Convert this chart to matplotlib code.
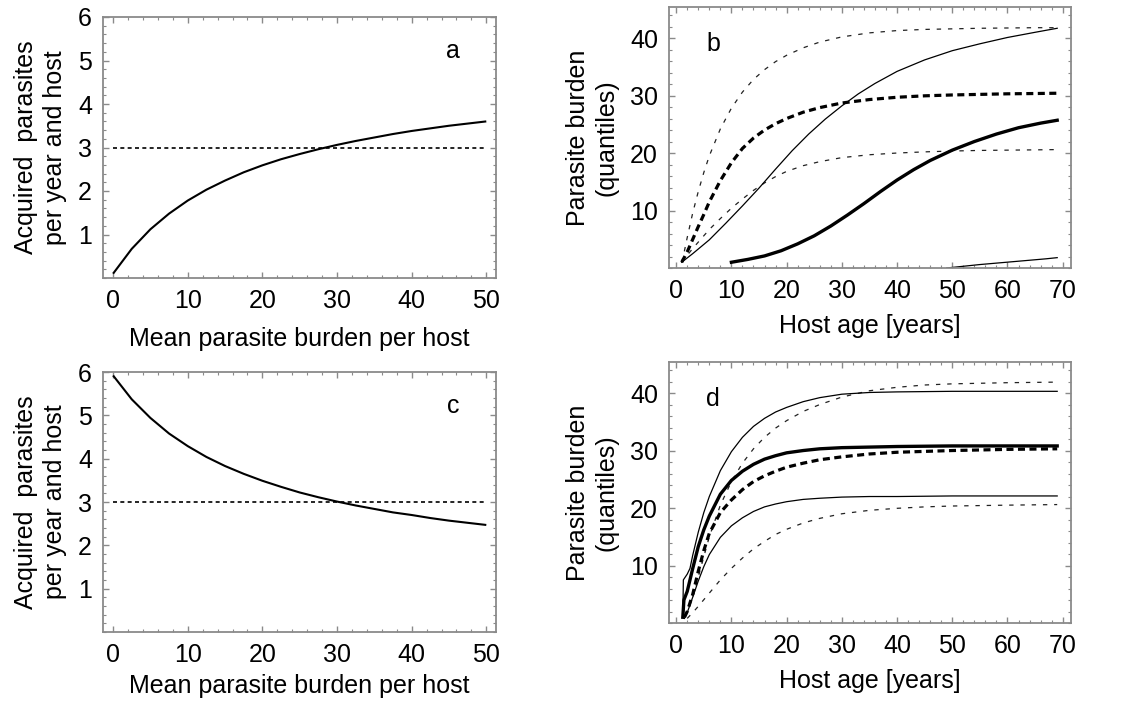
import matplotlib
matplotlib.use("Agg")
import matplotlib.pyplot as plt
from matplotlib.ticker import MultipleLocator, FixedLocator

plt.rcParams['font.family'] = ['Liberation Sans', 'DejaVu Sans']

# ---------------- data ----------------
# panel a: acquired parasites vs mean burden (increasing)
a_x = [0, 2.5, 5, 7.5, 10, 12.5, 15, 17.5, 20, 22.5, 25, 27.5, 30, 32.5, 35, 37.5, 40, 42.5, 45, 47.5, 50]
a_y = [0.10, 0.67, 1.12, 1.48, 1.78, 2.03, 2.24, 2.43, 2.59, 2.73, 2.85, 2.96, 3.06, 3.15, 3.23, 3.31, 3.38, 3.44, 3.50, 3.55, 3.60]
# panel c: acquired parasites vs mean burden (decreasing)
c_x = [0, 2.5, 5, 7.5, 10, 12.5, 15, 17.5, 20, 22.5, 25, 27.5, 30, 32.5, 35, 37.5, 40, 42.5, 45, 47.5, 50]
c_y = [5.92, 5.37, 4.94, 4.58, 4.29, 4.04, 3.83, 3.65, 3.49, 3.35, 3.22, 3.11, 3.01, 2.92, 2.84, 2.76, 2.70, 2.63, 2.57, 2.52, 2.47]
ref_x = [0, 50]
ref_y = [3, 3]

# panel b
b_dash_hi_x = [1, 1.5, 2, 3, 4, 5, 6, 8, 10, 12, 14, 16, 18, 20, 23, 26, 30, 35, 40, 45, 50, 55, 60, 65, 69]
b_dash_hi_y = [1.0, 3.0, 5.3, 9.6, 13.3, 16.6, 19.5, 24.2, 27.8, 30.6, 32.8, 34.5, 35.9, 37.0, 38.3, 39.3, 40.2, 40.9, 41.3, 41.5, 41.6, 41.7, 41.75, 41.8, 41.8]
b_dash_med_x = [1, 2, 3, 4, 5, 6, 8, 10, 12, 14, 16, 18, 20, 23, 26, 30, 35, 40, 45, 50, 55, 60, 65, 69]
b_dash_med_y = [1.0, 2.8, 5.0, 7.2, 9.3, 11.5, 15.2, 18.3, 20.8, 22.6, 24.0, 25.1, 26.0, 27.1, 27.9, 28.7, 29.3, 29.7, 29.95, 30.1, 30.2, 30.3, 30.35, 30.4]
b_dash_lo_x = [1, 2, 3, 4, 6, 8, 10, 12, 14, 16, 18, 20, 23, 26, 30, 35, 40, 45, 50, 55, 60, 65, 69]
b_dash_lo_y = [1.0, 2.2, 3.4, 4.5, 6.7, 8.6, 10.4, 12.0, 13.5, 14.8, 15.9, 16.8, 17.8, 18.5, 19.2, 19.7, 20.0, 20.2, 20.35, 20.45, 20.5, 20.55, 20.6]
b_solid_hi_x = [1, 3, 6, 9, 12, 15, 18, 21, 24, 27, 30, 33, 36, 40, 45, 50, 55, 60, 65, 69]
b_solid_hi_y = [1.0, 2.5, 4.9, 7.8, 10.8, 13.9, 17.2, 20.4, 23.3, 25.9, 28.2, 30.3, 32.1, 34.2, 36.2, 37.8, 39.0, 40.1, 41.0, 41.7]
b_solid_med_x = [10, 13, 16, 19, 22, 25, 28, 31, 34, 37, 40, 43, 46, 50, 54, 58, 62, 66, 69]
b_solid_med_y = [1.0, 1.5, 2.1, 3.0, 4.2, 5.6, 7.3, 9.2, 11.2, 13.3, 15.3, 17.1, 18.7, 20.5, 22.0, 23.3, 24.4, 25.2, 25.7]
b_solid_lo_x = [49, 52, 55, 58, 61, 64, 67, 69]
b_solid_lo_y = [0.0, 0.3, 0.6, 0.85, 1.1, 1.35, 1.6, 1.8]

# panel d
d_solid_hi_x = [1.2, 1.3, 2.0, 2.5, 3, 4, 5, 6, 8, 10, 12, 14, 16, 18, 20, 23, 26, 30, 35, 40, 50, 60, 69]
d_solid_hi_y = [1.0, 7.5, 8.5, 9.5, 11.8, 15.8, 19.2, 22.0, 26.5, 29.8, 32.3, 34.2, 35.6, 36.7, 37.5, 38.5, 39.2, 39.8, 40.1, 40.2, 40.3, 40.3, 40.3]
d_dash_hi_x = [1.5, 2, 3, 4, 5, 6, 8, 10, 12, 14, 16, 18, 20, 23, 26, 30, 35, 40, 45, 50, 60, 69]
d_dash_hi_y = [1.0, 2.0, 4.5, 8.0, 11.5, 15.0, 20.5, 24.6, 27.8, 30.3, 32.3, 33.9, 35.2, 36.8, 38.0, 39.3, 40.4, 41.0, 41.4, 41.6, 41.8, 41.9]
d_solid_med_x = [1.2, 1.4, 2, 2.5, 3, 4, 5, 6, 8, 10, 12, 14, 16, 18, 20, 23, 26, 30, 35, 40, 50, 60, 69]
d_solid_med_y = [1.0, 4.0, 5.5, 7.5, 9.5, 13.3, 16.2, 18.6, 22.4, 24.8, 26.4, 27.6, 28.5, 29.1, 29.6, 30.0, 30.3, 30.5, 30.6, 30.7, 30.8, 30.8, 30.8]
d_dash_med_x = [1.5, 2, 3, 4, 5, 6, 8, 10, 12, 14, 16, 18, 20, 23, 26, 30, 35, 40, 50, 60, 69]
d_dash_med_y = [1.0, 2.0, 5.0, 9.0, 12.6, 15.6, 19.2, 21.4, 23.2, 24.6, 25.6, 26.4, 27.1, 27.8, 28.4, 28.9, 29.4, 29.7, 30.0, 30.2, 30.3]
d_solid_lo_x = [1.5, 2, 3, 4, 5, 6, 8, 10, 12, 14, 16, 18, 20, 23, 26, 30, 35, 40, 50, 60, 69]
d_solid_lo_y = [0.8, 1.8, 4.5, 7.3, 9.8, 11.9, 14.9, 16.9, 18.3, 19.4, 20.2, 20.7, 21.1, 21.5, 21.7, 21.9, 22.0, 22.0, 22.1, 22.1, 22.1]
d_dash_lo_x = [2, 3, 4, 6, 8, 10, 12, 14, 16, 18, 20, 23, 26, 30, 35, 40, 45, 50, 60, 69]
d_dash_lo_y = [0.8, 1.8, 2.9, 5.2, 7.5, 9.5, 11.3, 12.9, 14.2, 15.4, 16.3, 17.4, 18.2, 19.0, 19.6, 19.95, 20.2, 20.35, 20.5, 20.6]

ac_xticks = [0, 10, 20, 30, 40, 50]
ac_yticks = [1, 2, 3, 4, 5, 6]
bd_xticks = [0, 10, 20, 30, 40, 50, 60, 70]
bd_yticks = [10, 20, 30, 40]

ac_xlabel = "Mean parasite burden per host"
ac_ylabel = "Acquired  parasites\nper year and host"
bd_xlabel = "Host age [years]"
bd_ylabel = "Parasite burden\n(quantiles)"

# ---------------- figure ----------------
W, H = 1128, 701
fig = plt.figure(figsize=(W / 100, H / 100), dpi=100)

def box(l, t, r, b):
    return [l / W, 1 - b / H, (r - l) / W, (b - t) / H]

ax_a = fig.add_axes(box(103, 17, 496, 278))
ax_c = fig.add_axes(box(103, 372, 496, 632))
ax_b = fig.add_axes(box(669, 7, 1071, 268))
ax_d = fig.add_axes(box(669, 362, 1071, 623))

FS = 18
FRAME = '#8a8a8a'

def style(ax, xmaj, xmin, ymaj, ymin, xlim, ylim):
    ax.set_xlim(*xlim)
    ax.set_ylim(*ylim)
    ax.xaxis.set_major_locator(FixedLocator(xmaj))
    ax.yaxis.set_major_locator(FixedLocator(ymaj))
    ax.xaxis.set_minor_locator(MultipleLocator(xmin))
    ax.yaxis.set_minor_locator(MultipleLocator(ymin))
    for s in ax.spines.values():
        s.set_color(FRAME)
        s.set_linewidth(1.3)
    ax.tick_params(which='both', direction='in', top=True, right=True,
                   color=FRAME, labelsize=FS, labelcolor='black')
    ax.tick_params(which='major', length=4, width=1.0, pad=8)
    ax.tick_params(which='minor', length=2.5, width=0.8)

for ax, yv, letter, lp in [(ax_a, a_y, 'a', 10), (ax_c, c_y, 'c', 5)]:
    xv = a_x if ax is ax_a else c_x
    ax.plot(ref_x, ref_y, color='black', lw=1.2, linestyle=(0, (2.4, 2.0)))
    ax.plot(xv, yv, color='black', lw=1.5, solid_capstyle='butt')
    style(ax, ac_xticks, 2, ac_yticks, 0.2, (-1.35, 51.3), (0, 6))
    ax.set_xlabel(ac_xlabel, fontsize=FS, labelpad=lp)
    ax.set_ylabel(ac_ylabel, fontsize=FS, labelpad=8, linespacing=1.25)
    ax.text(0.89, 0.87, letter, transform=ax.transAxes, fontsize=FS,
            ha='center', va='center')

thin_dash = dict(color='#222222', lw=0.9, linestyle=(0, (3.5, 5.5)))
thick_dash = dict(color='black', lw=2.3, linestyle=(0, (2.2, 1.4)))
thin_solid = dict(color='black', lw=0.9)
thick_solid = dict(color='black', lw=2.4)

ax_b.plot(b_dash_hi_x, b_dash_hi_y, **thin_dash)
ax_b.plot(b_dash_lo_x, b_dash_lo_y, **thin_dash)
ax_b.plot(b_dash_med_x, b_dash_med_y, **thick_dash)
ax_b.plot(b_solid_hi_x, b_solid_hi_y, **thin_solid)
ax_b.plot(b_solid_lo_x, b_solid_lo_y, **thin_solid)
ax_b.plot(b_solid_med_x, b_solid_med_y, **thick_solid)

ax_d.plot(d_dash_hi_x, d_dash_hi_y, **thin_dash)
ax_d.plot(d_dash_lo_x, d_dash_lo_y, **thin_dash)
ax_d.plot(d_dash_med_x, d_dash_med_y, **thick_dash)
ax_d.plot(d_solid_hi_x, d_solid_hi_y, **thin_solid)
ax_d.plot(d_solid_lo_x, d_solid_lo_y, **thin_solid)
ax_d.plot(d_solid_med_x, d_solid_med_y, **thick_solid)

for ax, letter in [(ax_b, 'b'), (ax_d, 'd')]:
    style(ax, bd_xticks, 2, bd_yticks, 2, (-1.3, 71.5), (0, 45.4))
    ax.set_xlabel(bd_xlabel, fontsize=FS, labelpad=8)
    ax.set_ylabel(bd_ylabel, fontsize=FS, labelpad=8, linespacing=1.25)
    ax.text(0.11, 0.86, letter, transform=ax.transAxes, fontsize=FS,
            ha='center', va='center')

fig.savefig("out.png", dpi=100)
